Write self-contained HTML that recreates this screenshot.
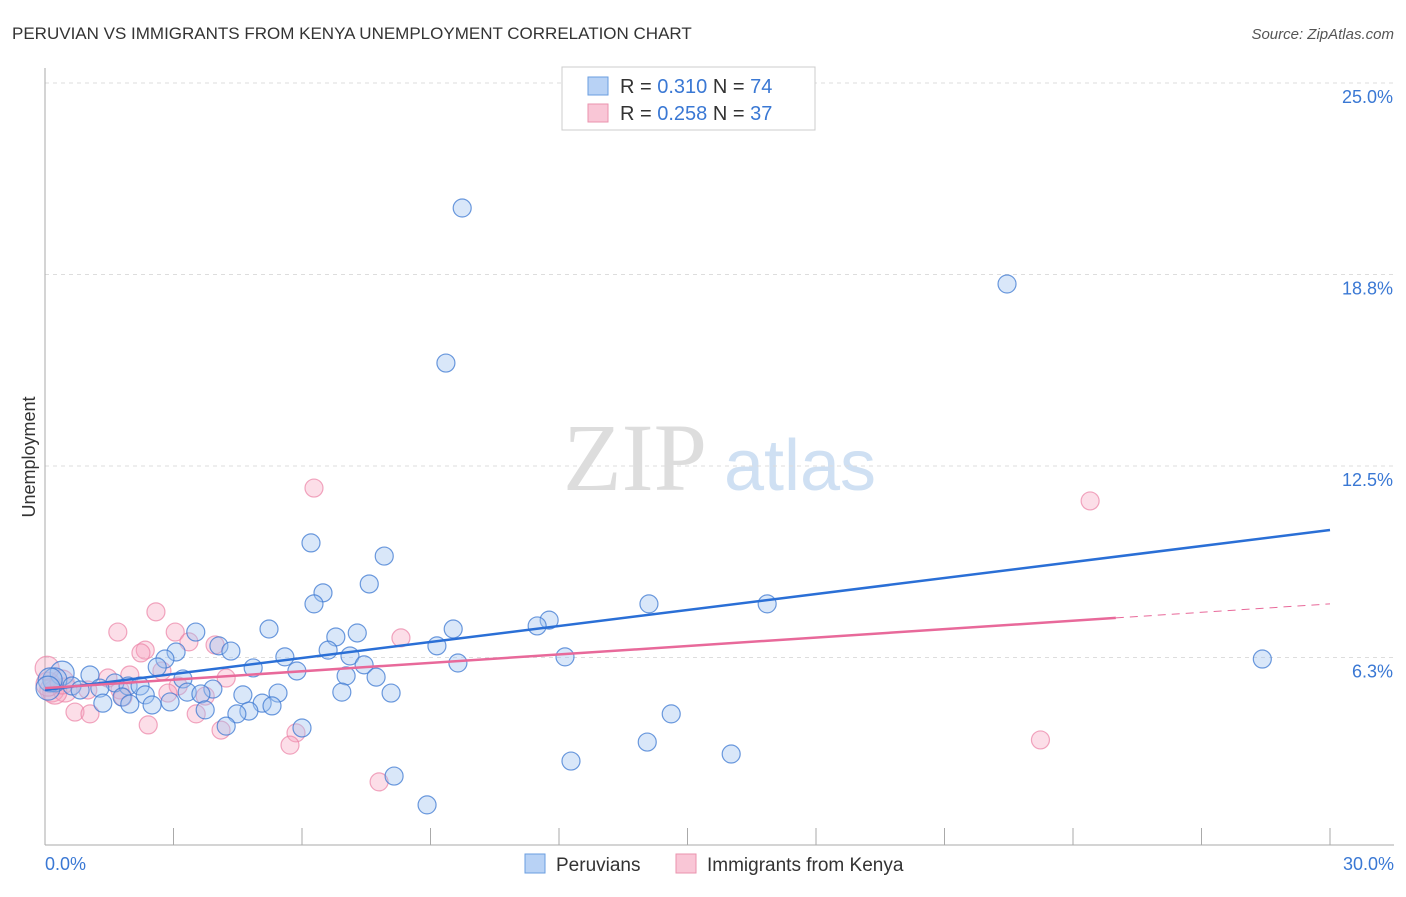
<!DOCTYPE html>
<html><head><meta charset="utf-8"><style>
body{margin:0;background:#fff;font-family:"Liberation Sans",sans-serif}
</style></head><body>
<svg id="c" width="1406" height="892" xmlns="http://www.w3.org/2000/svg">
<text x="12" y="39" font-size="17" fill="#333">PERUVIAN VS IMMIGRANTS FROM KENYA UNEMPLOYMENT CORRELATION CHART</text>
<text x="1394" y="39" font-size="15" fill="#555" font-style="italic" text-anchor="end">Source: ZipAtlas.com</text>
<text x="35" y="457" font-size="18" fill="#333" text-anchor="middle" transform="rotate(-90 35 457)">Unemployment</text>
<g>
<text x="635" y="490" font-size="96" font-family="Liberation Serif,serif" fill="#ddd" text-anchor="middle">ZIP</text>
<text x="800" y="490" font-size="72" fill="#cfe0f3" text-anchor="middle">atlas</text>
</g>
<g id="grid"></g><g id="pts"></g><g id="lines"></g>
<g>
<rect x="562" y="67" width="253" height="63" fill="#fff" stroke="#ccc"/>
<rect x="588" y="77" width="20" height="18" fill="#b8d2f5" stroke="#6a9ee0"/>
<rect x="588" y="104" width="20" height="18" fill="#f9c6d6" stroke="#ea93ae"/>
<text x="620" y="93" font-size="20" fill="#333">R = <tspan fill="#3a78d4">0.310</tspan>  N = <tspan fill="#3a78d4">74</tspan></text>
<text x="620" y="120" font-size="20" fill="#333">R = <tspan fill="#3a78d4">0.258</tspan>  N = <tspan fill="#3a78d4">37</tspan></text>
</g>
<g>
<rect x="525" y="854" width="20" height="19" fill="#b8d2f5" stroke="#6a9ee0"/>
<text x="556" y="871" font-size="19" fill="#333">Peruvians</text>
<rect x="676" y="854" width="20" height="19" fill="#f9c6d6" stroke="#ea93ae"/>
<text x="707" y="871" font-size="19" fill="#333">Immigrants from Kenya</text>
</g>
</svg>
<script>
const yTicks=[25,18.8,12.5,6.3];
const yTickVals=[25,18.75,12.5,6.25];
const xTickLabels=["0.0%","30.0%"];
const blueX=[9.74,22.46,9.36,6.21,7.92,7.57,6.49,6.28,14.10,16.86,11.77,11.49,9.53,7.29,5.23,3.52,6.79,4.06,9.15,6.61,4.34,3.06,7.12,5.60,12.14,2.80,9.64,7.45,4.86,2.62,5.88,28.42,1.05,0.40,7.03,7.73,3.22,0.23,1.63,1.94,2.22,0.63,1.28,3.92,0.82,3.32,5.44,4.62,8.08,6.93,3.64,2.34,1.80,2.92,5.07,1.35,1.98,2.50,5.30,3.74,4.76,4.48,14.62,4.23,6.00,14.06,16.02,12.28,8.15,8.92,0.12,0.07];
const blueY=[20.92,18.44,15.86,9.99,9.56,8.65,8.36,8.0,8.0,8.0,7.47,7.28,7.18,7.05,7.18,7.08,6.92,6.63,6.63,6.49,6.46,6.43,6.30,6.27,6.27,6.20,6.07,6.01,5.91,5.94,5.81,6.20,5.68,5.74,5.65,5.61,5.55,5.52,5.42,5.32,5.32,5.32,5.25,5.22,5.19,5.12,5.09,5.03,5.09,5.12,5.06,5.03,4.96,4.80,4.76,4.76,4.73,4.70,4.67,4.54,4.50,4.41,4.41,4.01,3.95,3.49,3.10,2.87,2.38,1.44,5.52,5.25];
const pinkX=[24.40,6.28,2.59,1.70,3.04,8.31,3.97,3.36,2.34,2.24,2.73,4.23,1.98,1.47,0.16,0.47,1.00,1.75,3.11,2.87,3.74,1.82,0.70,1.05,3.53,2.41,4.11,5.86,5.72,7.80,23.24,0.23,0.07,0.40,0.05];
const pinkY=[11.36,11.78,7.74,7.08,7.08,6.89,6.66,6.76,6.49,6.40,5.81,5.58,5.68,5.58,5.19,5.19,5.19,5.19,5.32,5.09,4.99,4.96,4.47,4.41,4.41,4.05,3.88,3.79,3.39,2.19,3.56,5.12,5.38,5.45,5.9];
const blueTrend=[5.19,10.41];
const pinkTrend=[5.25,8.0];
const pinkSolidEnd=25;
const X=v=>45+v*1285/30, Y=v=>849-v*30.64;
const NS="http://www.w3.org/2000/svg";
function mk(t,a,p){const e=document.createElementNS(NS,t);for(const k in a)e.setAttribute(k,a[k]);p.appendChild(e);return e;}
const grid=document.getElementById('grid');
yTickVals.forEach((v,i)=>{
 const l=mk('line',{x1:45,x2:1394,y1:Y(v),y2:Y(v),stroke:'#ddd','stroke-dasharray':'4,4'},grid);
 
 
 const t=mk('text',{x:1393,y:Y(v)+20,'font-size':18,fill:'#3a78d4','text-anchor':'end'},grid);
 t.textContent=yTicks[i].toFixed(1)+'%';
 
 
});
const ax=mk('line',{x1:45,x2:45,y1:68,y2:845,stroke:'#aaa'},grid);


const bx=mk('line',{x1:45,x2:1394,y1:845,y2:845,stroke:'#aaa'},grid);


for(let i=0;i<=10;i++){const tk=mk('line',{x1:X(i*3),x2:X(i*3),y1:828,y2:845,stroke:'#aaa'},grid);
 
 }
[[0,'start',45],[30,'end',1394]].forEach((d,i)=>{const t=mk('text',{x:d[2],y:870,'font-size':18,fill:'#3a78d4','text-anchor':d[1]},grid);t.textContent=xTickLabels[i];
 
 });
const pts=document.getElementById('pts');
pinkX.forEach((x,i)=>{const c=mk('circle',{cx:X(x),cy:Y(pinkY[i]),r:x<0.5?12:9,fill:'rgba(245,160,190,0.35)',stroke:'rgba(235,130,165,0.7)','stroke-width':1.2},pts);
 
 });
blueX.forEach((x,i)=>{const c=mk('circle',{cx:X(x),cy:Y(blueY[i]),r:x<0.5?12:9,fill:'rgba(160,195,240,0.4)',stroke:'rgba(60,120,210,0.75)','stroke-width':1.2},pts);
 
 });
const ln=document.getElementById('lines');
const b=mk('line',{x1:X(0),y1:Y(blueTrend[0]),x2:X(30),y2:Y(blueTrend[1]),stroke:'#2a6fd6','stroke-width':2.5},ln);


const pe=pinkTrend[0]+(pinkTrend[1]-pinkTrend[0])*pinkSolidEnd/30;
const p=mk('line',{x1:X(0),y1:Y(pinkTrend[0]),x2:X(pinkSolidEnd),y2:Y(pe),stroke:'#e8699a','stroke-width':2.5},ln);


const pd=mk('line',{x1:X(pinkSolidEnd),y1:Y(pe),x2:X(30),y2:Y(pinkTrend[1]),stroke:'#e8699a','stroke-width':1,'stroke-dasharray':'8,6'},ln);


</script>
</body></html>
